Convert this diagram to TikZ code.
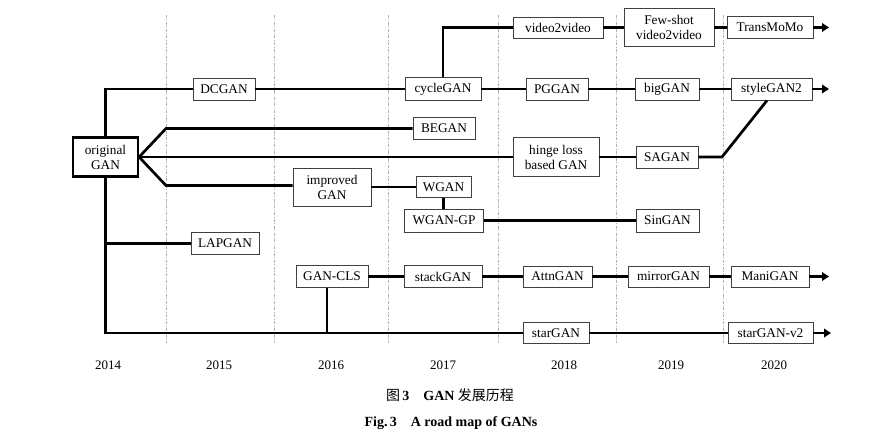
\documentclass[tikz,border=0pt]{standalone}
\usepackage{fontspec}
\setmainfont{Liberation Serif}
\newfontfamily\cjk{Noto Sans CJK SC}
\usetikzlibrary{arrows.meta,calc}
\begin{document}
\begin{tikzpicture}[x=1pt,y=-1pt,
 box/.style={draw=black!75,line width=0.9pt,fill=white,inner sep=0pt,align=center,font=\fontsize{13.3}{15}\selectfont},
 conn/.style={line width=2.7pt,black},
 arr/.style={conn,-{Triangle[length=7pt,width=8.5pt]}},
 divider/.style={gray!60,line width=0.5pt,dash pattern=on 3pt off 1.5pt on 0.8pt off 1.5pt},
 year/.style={font=\fontsize{13}{15}\selectfont},
 captext/.style={font=\fontsize{14}{16}\selectfont\bfseries}]
\useasboundingbox[fill=white] (0,0) rectangle (893,443);
\foreach \x in {166,274,388,498,616,723} \draw[divider] (\x,15) -- (\x,343);

% nodes
\node[box,draw=black,line width=2.2pt,minimum width=65,minimum height=39] (orig) at (105.5,157) {original\\GAN};
\node[box,minimum width=62,minimum height=22] (dcgan) at (224,89) {DCGAN};
\node[box,minimum width=62,minimum height=22] (began) at (444,128.5) {BEGAN};
\node[box,minimum width=86,minimum height=39] (hinge) at (556,157) {hinge loss\\based GAN};
\node[box,minimum width=78,minimum height=38] (improved) at (332,187) {improved\\GAN};
\node[box,minimum width=55,minimum height=21] (wgan) at (443.5,187) {WGAN};
\node[box,minimum width=79,minimum height=23] (wgangp) at (444,220.5) {WGAN-GP};
\node[box,minimum width=63,minimum height=23] (singan) at (667.5,220.5) {SinGAN};
\node[box,minimum width=68,minimum height=22] (lapgan) at (225,243.5) {LAPGAN};
\node[box,minimum width=72,minimum height=22] (gancls) at (332,276.5) {GAN-CLS};
\node[box,minimum width=78,minimum height=22] (stackgan) at (443,276.5) {stackGAN};
\node[box,minimum width=69,minimum height=21] (attngan) at (557.5,276.5) {AttnGAN};
\node[box,minimum width=81,minimum height=21] (mirrorgan) at (668.5,276.5) {mirrorGAN};
\node[box,minimum width=78,minimum height=21] (manigan) at (770,276.5) {ManiGAN};
\node[box,minimum width=66,minimum height=21] (stargan) at (556,333) {starGAN};
\node[box,minimum width=85,minimum height=21] (starganv2) at (770.5,333) {starGAN-v2};
\node[box,minimum width=76,minimum height=23] (cyclegan) at (443,89) {cycleGAN};
\node[box,minimum width=90,minimum height=21] (v2v) at (558,27.5) {video2video};
\node[box,minimum width=90,minimum height=38] (fewshot) at (669,27.5) {Few-shot\\video2video};
\node[box,minimum width=86,minimum height=22] (transmomo) at (770,27.5) {TransMoMo};
\node[box,minimum width=62,minimum height=22] (pggan) at (557,89) {PGGAN};
\node[box,minimum width=64,minimum height=22] (biggan) at (667,89) {bigGAN};
\node[box,minimum width=81,minimum height=22] (stylegan2) at (771.5,89) {styleGAN2};
\node[box,minimum width=62,minimum height=22] (sagan) at (667,157) {SAGAN};

\coordinate (bA) at (166,128.5);
\coordinate (bB) at (166,185.5);
\coordinate (bC) at (722,157);
\coordinate (e1) at (829,27.5);
\coordinate (e2) at (829,89);
\coordinate (e3) at (829,276.5);
\coordinate (e4) at (831,333);

% connectors
\draw[conn] (orig.north) |- (dcgan.west);
\draw[conn] (dcgan.east) -- (cyclegan.west);
\draw[conn] (cyclegan.east) -- (pggan.west);
\draw[conn] (pggan.east) -- (biggan.west);
\draw[conn] (biggan.east) -- (stylegan2.west);
\draw[arr] (stylegan2.east) -- (e2);
\draw[conn] (cyclegan.north) |- (v2v.west);
\draw[conn] (v2v.east) -- (fewshot.west);
\draw[conn] (fewshot.east) -- (transmomo.west);
\draw[arr] (transmomo.east) -- (e1);
\draw[conn] (orig.east) -- (bA) -- (began.west);
\draw[conn] (orig.east) -- (hinge.west);
\draw[conn] (hinge.east) -- (sagan.west);
\draw[conn] (sagan.east) -- (bC) -- ([xshift=-4.5pt]stylegan2.south);
\draw[conn] (orig.east) -- (bB) -- (bB -| improved.west);
\draw[conn] (improved.east) -- (wgan.west);
\draw[conn] (wgan.south) -- (wgan.south |- wgangp.north);
\draw[conn] (wgangp.east) -- (singan.west);
\draw[conn] (orig.south) |- (stargan.west);
\draw[conn] (orig.south |- lapgan.west) -- (lapgan.west);
\draw[conn] ([xshift=-5pt]gancls.south) coordinate (gc) -- (gc |- stargan.west);
\draw[conn] (gancls.east) -- (stackgan.west);
\draw[conn] (stackgan.east) -- (attngan.west);
\draw[conn] (attngan.east) -- (mirrorgan.west);
\draw[conn] (mirrorgan.east) -- (manigan.west);
\draw[arr] (manigan.east) -- (e3);
\draw[conn] (stargan.east) -- (starganv2.west);
\draw[arr] (starganv2.east) -- (e4);

% years
\node[year] (y14) at (108,365) {2014};
\node[year] (y15) at (219,365) {2015};
\node[year] (y16) at (331,365) {2016};
\node[year] (y17) at (443,365) {2017};
\node[year] (y18) at (564,365) {2018};
\node[year] (y19) at (671,365) {2019};
\node[year] (y20) at (774,365) {2020};

% caption
\node[captext] (cap1) at (450,395) {{\cjk\mdseries 图}\,3\quad GAN {\cjk\mdseries 发展历程}};
\node[captext] (cap2) at (451,423) {Fig.\,3\quad A road map of GANs};
\end{tikzpicture}
\end{document}
